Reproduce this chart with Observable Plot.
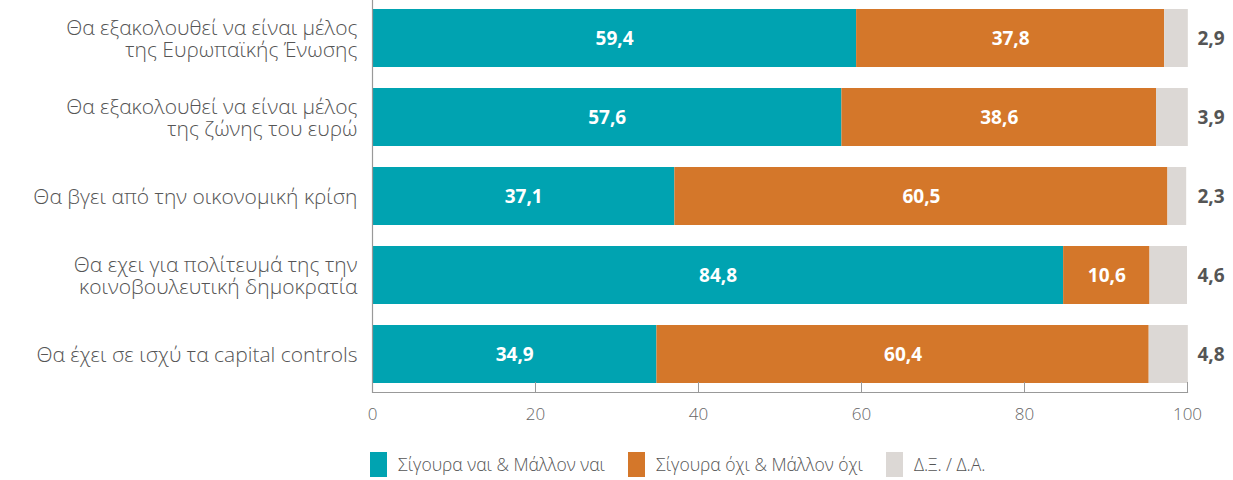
<!DOCTYPE html>
<html>
<head>
<meta charset="utf-8">
<script src="https://cdn.jsdelivr.net/npm/d3@7"></script>
<script src="https://cdn.jsdelivr.net/npm/@observablehq/plot@0.6"></script>
<style>
  html, body { margin: 0; padding: 0; background: #fff; }
  #chart { width: 1233px; }
  .legend { display: flex; align-items: center; height: 64px; padding-left: 370px;
    font-family: "Open Sans", sans-serif; font-weight: 300; font-size: 17.5px; color: #555; }
  .legend .item { display: flex; align-items: center; margin-right: 23px; }
  .legend .sw { width: 17px; height: 25px; margin-right: 11px; }
</style>
</head>
<body>
<div id="chart"></div>
<script>
const categories = [
  "Θα εξακολουθεί να είναι μέλος\nτης Ευρωπαϊκής Ένωσης",
  "Θα εξακολουθεί να είναι μέλος\nτης ζώνης του ευρώ",
  "Θα βγει από την οικονομική κρίση",
  "Θα εχει για πολίτευμά της την\nκοινοβουλευτική δημοκρατία",
  "Θα έχει σε ισχύ τα capital controls"
];
const series = ["Σίγουρα ναι & Μάλλον ναι", "Σίγουρα όχι & Μάλλον όχι", "Δ.Ξ. / Δ.Α."];
const yesValues = [59.4, 57.6, 37.1, 84.8, 34.9];
const noValues = [37.8, 38.6, 60.5, 10.6, 60.4];
const dkValues = [2.9, 3.9, 2.3, 4.6, 4.8];
const xTicks = [0, 20, 40, 60, 80, 100];
const colors = ["#00A3B1", "#D4772A", "#DCD8D5"];

const allSeries = [yesValues, noValues, dkValues];
const data = [];
categories.forEach((c, i) => {
  allSeries.forEach((vals, s) => data.push({category: c, series: series[s], value: vals[i], order: s}));
});
const fmt = v => v.toFixed(1).replace(".", ",");
const inside = data.filter(d => d.order < 2);
const outside = data.filter(d => d.order === 2);

const stackOpts = {y: "category", x: "value", fill: "series", order: series};

const plot = Plot.plot({
  width: 1233,
  height: 432,
  marginLeft: 372,
  marginRight: 46,
  marginTop: 0,
  marginBottom: 40,
  style: {fontFamily: "'Open Sans', sans-serif", background: "#fff"},
  x: {domain: [0, 100], ticks: xTicks},
  y: {domain: categories, range: [0, 392], paddingInner: 0.27, paddingOuter: 0.1, label: null},
  color: {domain: series, range: colors},
  marks: [
    Plot.barX(data, Plot.stackX({...stackOpts})),
    Plot.text(inside, Plot.stackX({...stackOpts, text: d => fmt(d.value), fill: null, z: "series"})),
    Plot.text(outside, {y: "category", x: () => 100, text: d => fmt(d.value), textAnchor: "start", dx: 10,
      fill: "#555", fontSize: 19, fontWeight: "bold"}),
    Plot.ruleX([0], {stroke: "#999", strokeWidth: 1.2}),
    Plot.frame({anchor: "bottom", stroke: "#999", strokeWidth: 1.2}),
    Plot.axisX({ticks: xTicks, tickSize: -10, tickFormat: () => "", stroke: "#999", label: null}),
    Plot.axisX({ticks: xTicks, tickSize: 0, tickPadding: 15, fontSize: 17, fontWeight: 300, fill: "#666", label: null}),
    Plot.axisY({tickSize: 0, tickPadding: 15, fontSize: 21, fontWeight: 300, fill: "#555", lineHeight: 1.05, label: null})
  ]
});
// style inside labels white bold
d3.select(plot).selectAll("g[aria-label='text']").filter((d, i) => i === 0)
  .attr("fill", "#fff").attr("font-weight", "bold").attr("font-size", 19);
document.getElementById("chart").appendChild(plot);

const legend = d3.select("#chart").append("div").attr("class", "legend");
series.forEach((s, i) => {
  const it = legend.append("div").attr("class", "item");
  it.append("div").attr("class", "sw").style("background", colors[i]);
  it.append("span").text(s);
});
</script>
</body>
</html>
